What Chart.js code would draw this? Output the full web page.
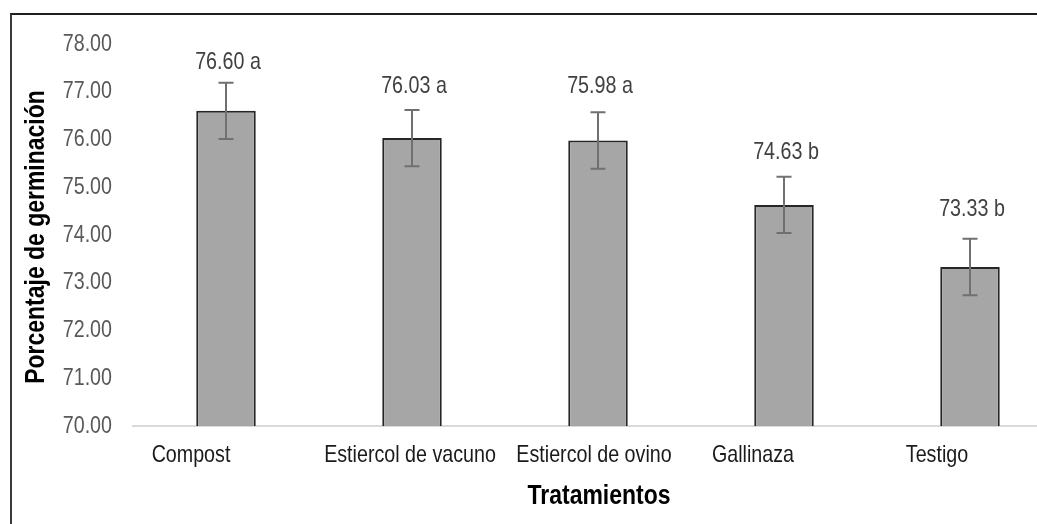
<!DOCTYPE html>
<html>
<head>
<meta charset="utf-8">
<script src="https://cdn.jsdelivr.net/npm/chart.js@4.4.1/dist/chart.umd.min.js"></script>
<style>
  html, body { margin: 0; padding: 0; background: #fff; overflow: hidden; }
  #wrap { position: absolute; left: 0; top: 0; width: 1080px; height: 524px; }
  #frame { position: absolute; left: 10px; top: 13px; width: 1100px; height: 600px;
           border-top: 2px solid #1e1e1e; border-left: 2px solid #3a3a3a; }
</style>
</head>
<body>
<div id="frame"></div>
<div id="wrap"><canvas id="myChart" width="1080" height="524"></canvas></div>
<script>
/* global Chart*/

// categories
const tratamientos = ['Compost', 'Estiercol de vacuno', 'Estiercol de ovino', 'Gallinaza', 'Testigo'];
// mean germination (%)
const germinacion = [76.60, 76.03, 75.98, 74.63, 73.33];
// error bar (+/-)
const errores = [0.59, 0.59, 0.59, 0.59, 0.59];
// Tukey letters
const letras = ['a', 'a', 'a', 'b', 'b'];
// y tick labels
const yTicks = [70, 71, 72, 73, 74, 75, 76, 77, 78];

const FONT = "'Liberation Sans', Arial, sans-serif";
const NARROW = 0.82; // no Arial Narrow installed, squeeze Liberation Sans instead

// label x shift from bar centre, label gap above error bar (layout only)
const labelShift = [-35, -2, -4, -31, -33];
const valueGap = [14, 17, 19, 18, 23];

function narrowText(c, text, x, y, align, baseline) {
  c.save();
  c.translate(x, y);
  c.scale(NARROW, 1);
  c.textAlign = align;
  c.textBaseline = baseline || 'alphabetic';
  c.fillText(text, 0, 0);
  c.restore();
}

const extras = {
  id: 'extras',
  afterDatasetsDraw(chart) {
    const c = chart.ctx;
    const y = chart.scales.y;
    const meta = chart.getDatasetMeta(0);
    c.save();
    // y tick labels
    c.fillStyle = '#595959';
    c.font = '24px ' + FONT;
    yTicks.forEach(v => {
      narrowText(c, v.toFixed(2), chart.chartArea.left - 21, y.getPixelForValue(v), 'right', 'middle');
    });
    meta.data.forEach((bar, i) => {
      const top = y.getPixelForValue(germinacion[i] + errores[i]);
      const bot = y.getPixelForValue(germinacion[i] - errores[i]);
      // error bar
      c.strokeStyle = '#707070';
      c.lineWidth = 2;
      c.beginPath();
      c.moveTo(bar.x, top); c.lineTo(bar.x, bot);
      c.moveTo(bar.x - 7.5, top); c.lineTo(bar.x + 7.5, top);
      c.moveTo(bar.x - 7.5, bot); c.lineTo(bar.x + 7.5, bot);
      c.stroke();
      // value label
      c.fillStyle = '#404040';
      c.font = '24px ' + FONT;
      narrowText(c, germinacion[i].toFixed(2) + ' ' + letras[i], bar.x + 2, top - valueGap[i], 'center');
      // category label
      c.fillStyle = '#1a1a1a';
      narrowText(c, tratamientos[i], bar.x + labelShift[i], 462, 'center');
    });
    // axis titles
    c.fillStyle = '#000';
    c.font = 'bold 28px ' + FONT;
    narrowText(c, 'Tratamientos', 599, 504, 'center');
    c.translate(44, 237);
    c.rotate(-Math.PI / 2);
    narrowText(c, 'Porcentaje de germinación', 0, 0, 'center');
    c.restore();
  }
};

const ctx = document.getElementById('myChart').getContext('2d');

const chart = new Chart(ctx, {
  type: 'bar',
  data: {
    labels: tratamientos,
    datasets: [{
      label: 'Porcentaje de germinación',
      backgroundColor: '#a6a6a6',
      borderColor: '#262626',
      borderWidth: 2,
      barPercentage: 0.32,
      categoryPercentage: 1,
      data: germinacion,
    }]
  },
  options: {
    responsive: false,
    animation: false,
    layout: { padding: { left: 10, top: 44, right: 17, bottom: 0 } },
    plugins: {
      legend: { display: false },
      tooltip: { enabled: false },
    },
    scales: {
      x: {
        grid: { display: false },
        border: { color: '#d9d9d9', width: 2 },
        ticks: { display: false },
        afterFit(scale) { scale.height = 98; },
      },
      y: {
        min: yTicks[0],
        max: yTicks[yTicks.length - 1],
        afterFit(scale) { scale.width = 123; },
        grid: { display: false, drawTicks: false },
        border: { display: false },
        ticks: { display: false, stepSize: 1 },
      }
    }
  },
  plugins: [extras],
});
console.log(chart.chartArea);
</script>
</body>
</html>
